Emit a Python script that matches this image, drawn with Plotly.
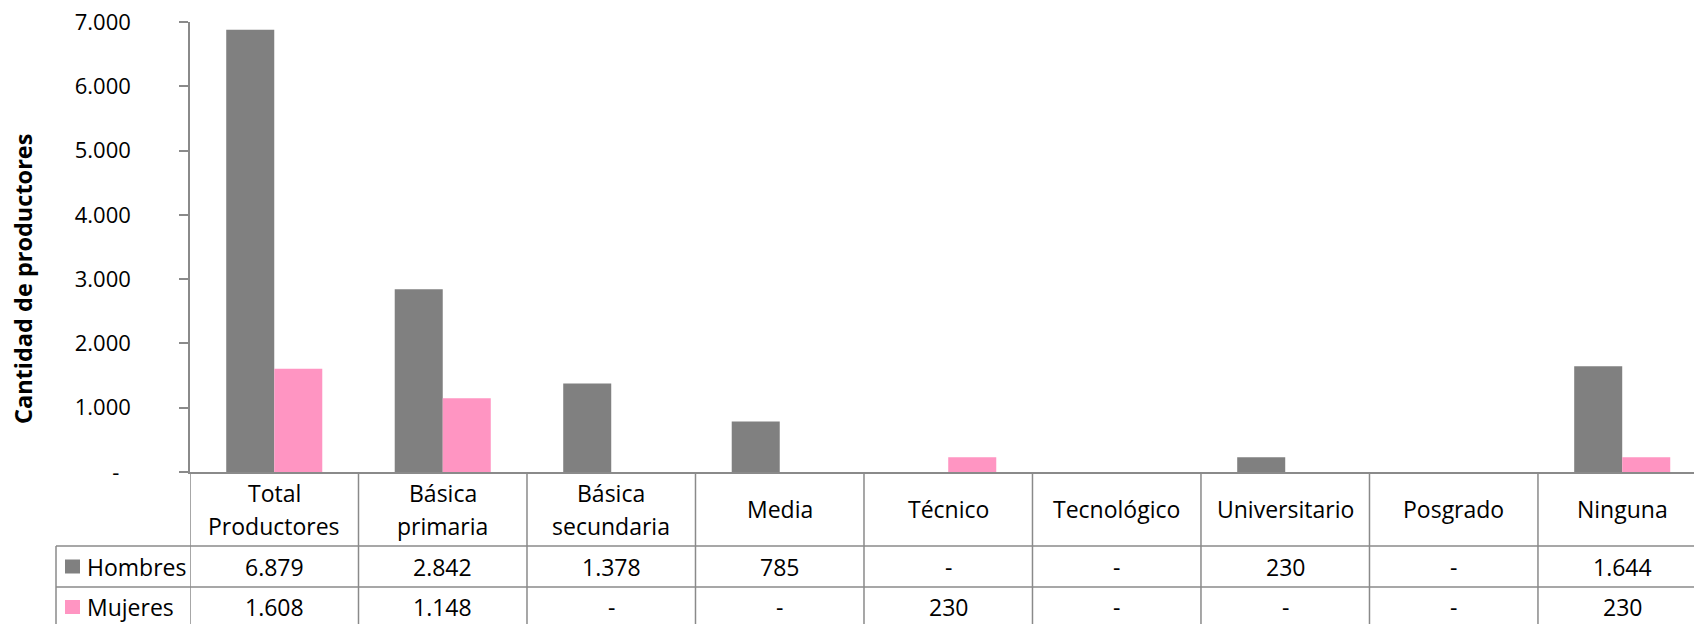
import plotly.graph_objects as go

categories = ["Total<br>Productores", "Básica<br>primaria", "Básica<br>secundaria", "Media",
              "Técnico", "Tecnológico", "Universitario", "Posgrado", "Ninguna"]
hombres = [6879, 2842, 1378, 785, 0, 0, 230, 0, 1644]
mujeres = [1608, 1148, 0, 0, 230, 0, 0, 0, 230]
series_names = ["Hombres", "Mujeres"]
y_ticks = [0, 1000, 2000, 3000, 4000, 5000, 6000, 7000]
y_title = "Cantidad de productores"

GRAY = "#808080"
PINK = "#FF95C2"
LINE = "#8a8a8a"
FONT = "Open Sans"
FS = 22
FS_T = 23

W, H = 1694, 624
TOP, BOT = 22, 472
PH = BOT - TOP


def py(p):
    return (BOT - p) / PH


def px(p):
    return p / W


def fmt(v):
    return "-" if v == 0 else f"{v:,}".replace(",", ".")


x_idx = list(range(len(categories)))

fig = go.Figure()
fig.add_trace(go.Bar(x=x_idx, y=hombres, name=series_names[0], marker_color=GRAY,
                     marker_line_width=0))
fig.add_trace(go.Bar(x=x_idx, y=mujeres, name=series_names[1], marker_color=PINK,
                     marker_line_width=0))

shapes = []
annotations = []

# vertical dividers of the table (category boundaries)
for i in range(len(categories) + 1):
    shapes.append(dict(type="line", xref="x", yref="paper", x0=i - 0.5, x1=i - 0.5,
                       y0=py(BOT), y1=py(H + 10), line=dict(color=LINE, width=1.5)))
# horizontal row lines
for yy in (546, 587):
    shapes.append(dict(type="line", xref="paper", yref="paper", x0=px(56), x1=1,
                       y0=py(yy), y1=py(yy), line=dict(color=LINE, width=1.5)))
# left border of legend column
shapes.append(dict(type="line", xref="paper", yref="paper", x0=px(56), x1=px(56),
                   y0=py(546), y1=py(H + 10), line=dict(color=LINE, width=1.5)))

# header labels
for i, c in enumerate(categories):
    lines = c.split("<br>")
    if len(lines) == 1:
        ys = [509]
    else:
        ys = [493, 526]
    for ln, yy in zip(lines, ys):
        annotations.append(dict(xref="x", yref="paper", x=i, y=py(yy), text=ln,
                                showarrow=False, xanchor="center", yanchor="middle",
                                font=dict(family=FONT, size=FS_T, color="#000")))

# value rows
rows = [(hombres, 566.5, GRAY, series_names[0]), (mujeres, 607, PINK, series_names[1])]
for vals, yy, col, name in rows:
    for i, v in enumerate(vals):
        annotations.append(dict(xref="x", yref="paper", x=i, y=py(yy), text=fmt(v),
                                showarrow=False, xanchor="center", yanchor="middle",
                                font=dict(family=FONT, size=FS_T, color="#000")))
    shapes.append(dict(type="rect", xref="paper", yref="paper", x0=px(65), x1=px(80),
                       y0=py(yy - 7), y1=py(yy + 7), fillcolor=col, line=dict(width=0)))
    annotations.append(dict(xref="paper", yref="paper", x=px(85), y=py(yy), text=name,
                            showarrow=False, xanchor="left", yanchor="middle",
                            font=dict(family=FONT, size=FS_T, color="#000")))

# y axis title
annotations.append(dict(xref="paper", yref="paper", x=px(23), y=py(279), text="<b>" + y_title + "</b>",
                        textangle=-90, showarrow=False, xanchor="center", yanchor="middle",
                        font=dict(family=FONT, size=23.5, color="#000")))

tick_text = [("-\u00a0\u00a0" if v == 0 else fmt(v)) for v in y_ticks]

fig.update_layout(
    width=W, height=H,
    margin=dict(l=0, r=0, t=TOP, b=H - BOT),
    paper_bgcolor="white", plot_bgcolor="white",
    barmode="group", bargap=0.43, bargroupgap=0,
    showlegend=False,
    shapes=shapes, annotations=annotations,
    font=dict(family=FONT, size=FS, color="#000"),
    xaxis=dict(domain=[px(190), 1], range=[-0.5, 8.426], showticklabels=False,
               ticks="", showgrid=False, zeroline=False, showline=True,
               linecolor=LINE, linewidth=1.5, fixedrange=True),
    yaxis=dict(range=[0, 7000], tickvals=y_ticks, ticktext=tick_text,
               ticks="outside", ticklen=9, tickcolor=LINE, tickwidth=1.5,
               showline=True, linecolor=LINE, linewidth=1.5, showgrid=False,
               zeroline=False, ticklabelstandoff=44,
               tickfont=dict(family=FONT, size=FS, color="#000")),
)

fig.write_html("out.html", config={"displayModeBar": False},
               post_script="document.body.style.margin='0px';document.body.style.overflow='hidden';")
